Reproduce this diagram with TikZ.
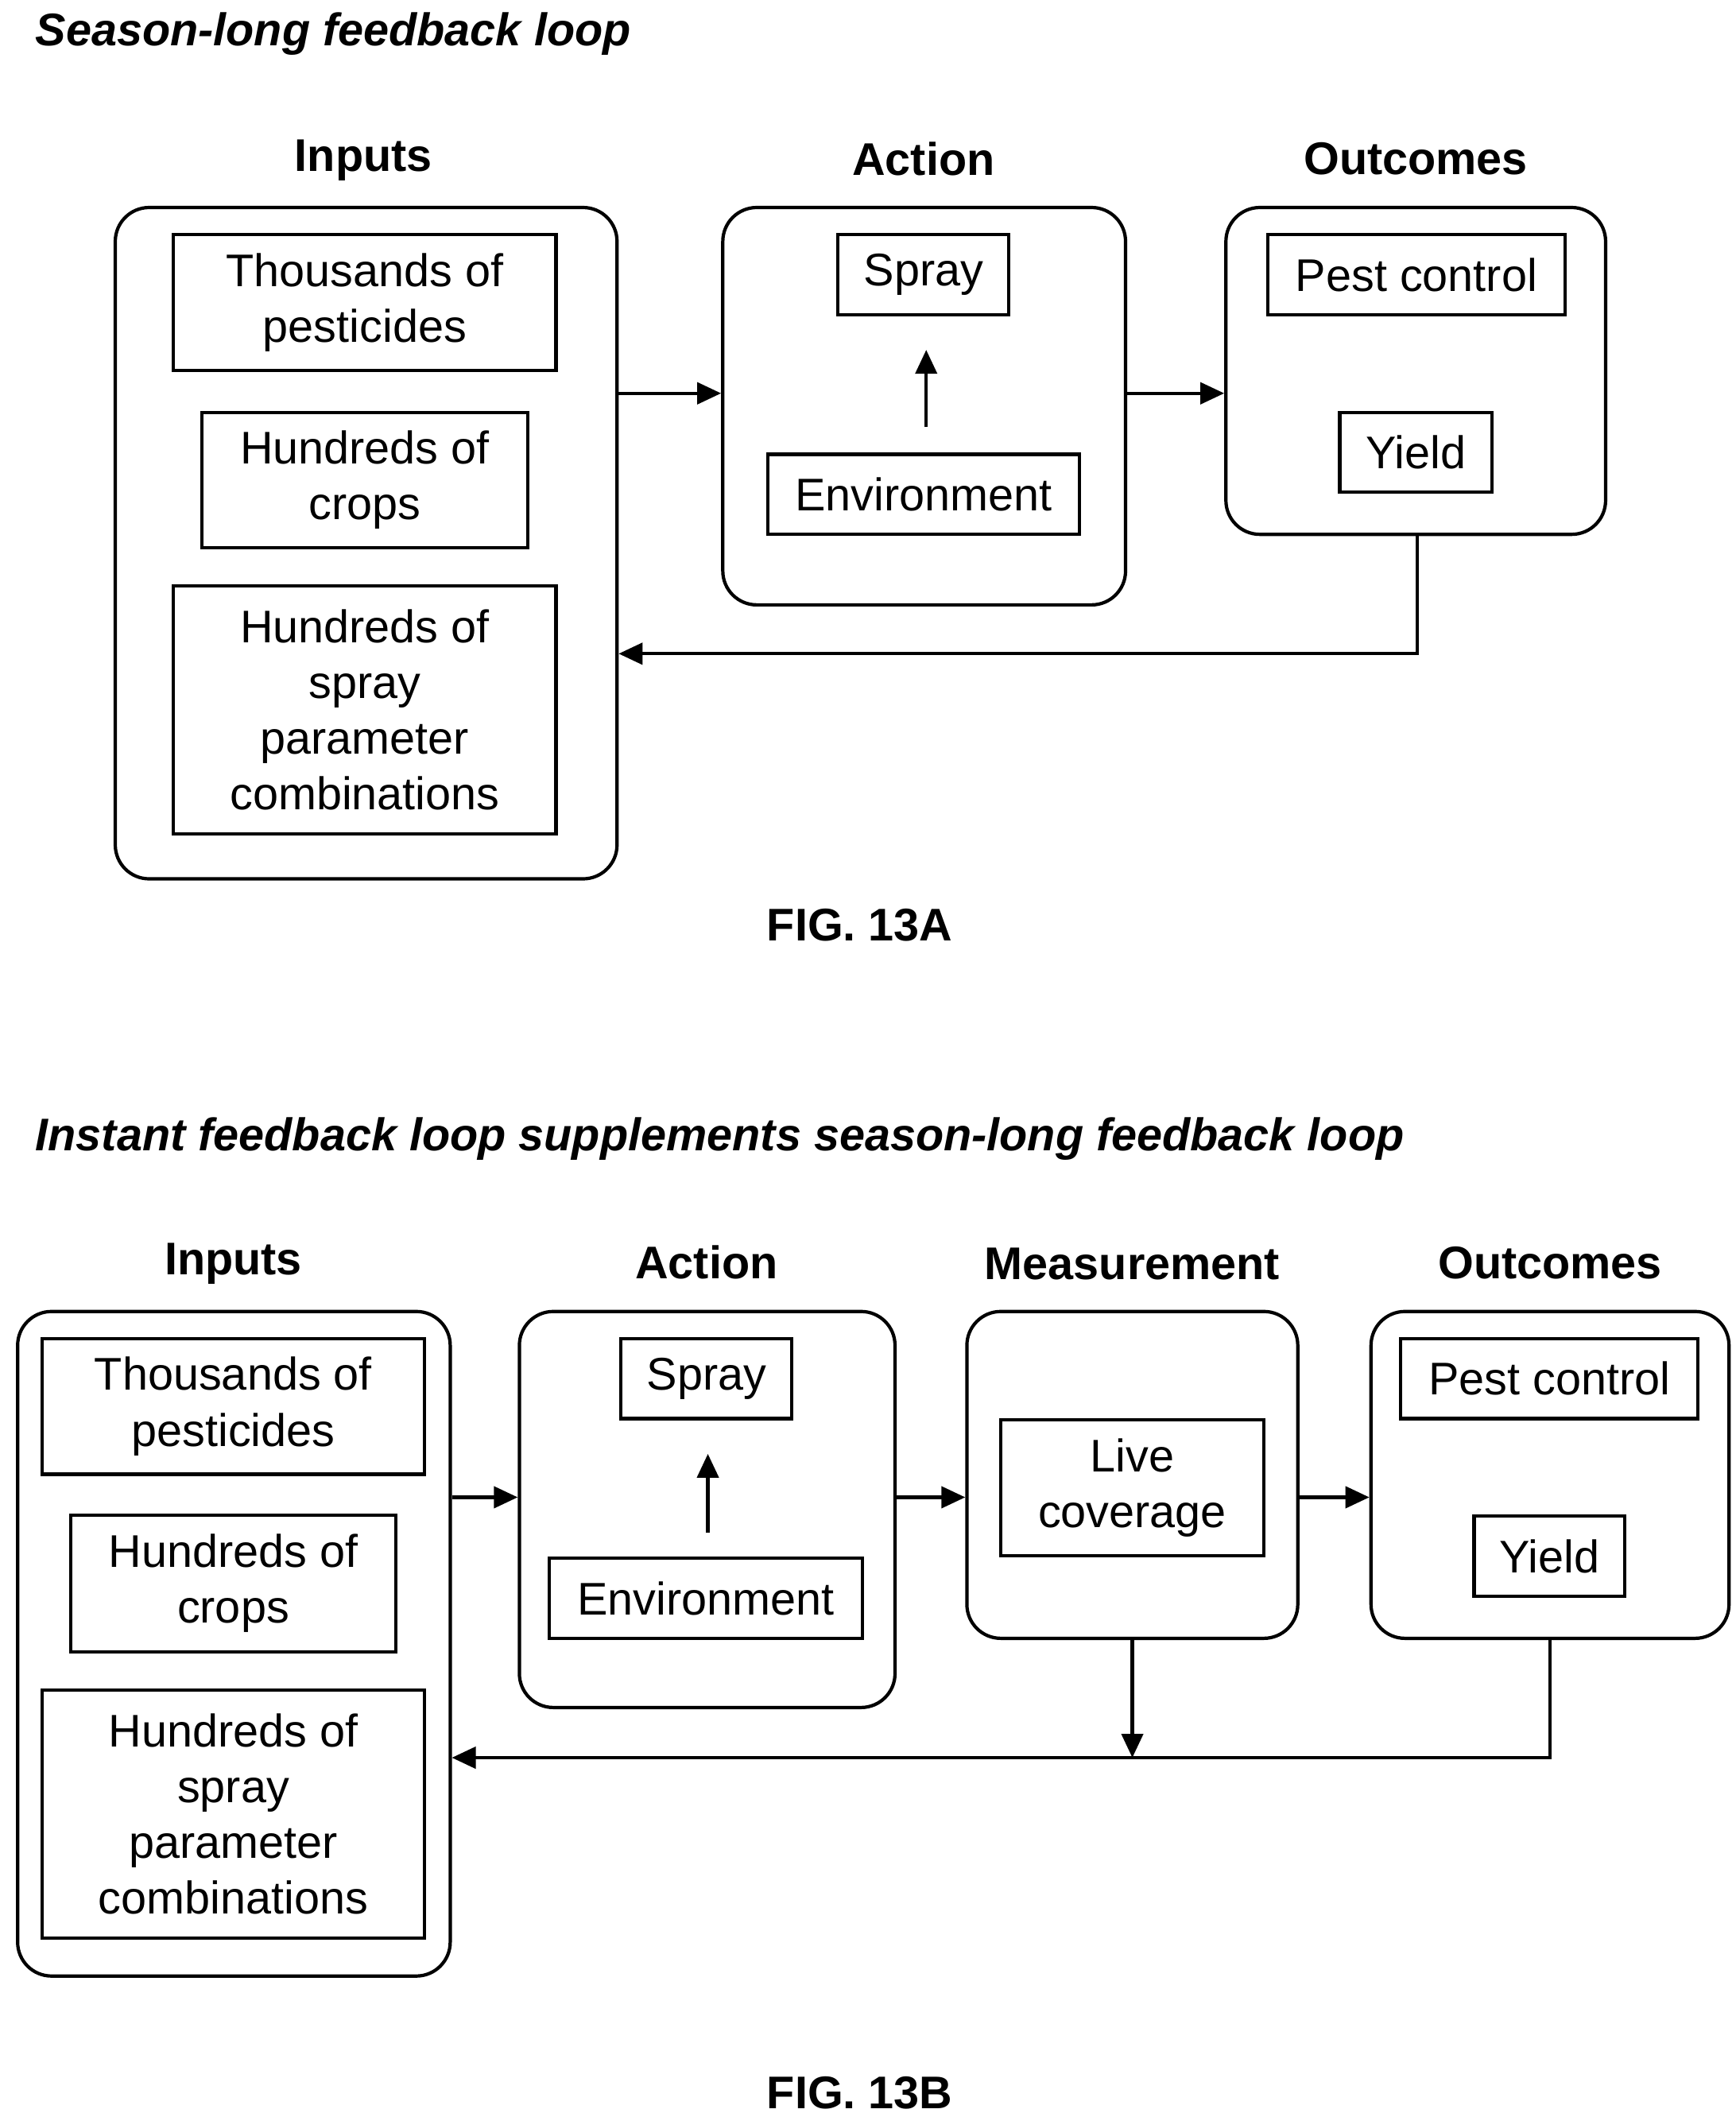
\documentclass[tikz,border=0pt]{standalone}
\usepackage{fontspec}
\setmainfont{Liberation Sans}
\usetikzlibrary{arrows.meta}
\begin{document}
\begin{tikzpicture}[x=0.01cm,y=-0.01cm,line width=0.7pt,
  txt/.style={font=\fontsize{9.6}{11.7}\selectfont,align=center},
  hd/.style={font=\fontsize{9.6}{11.7}\selectfont\bfseries},
  ttl/.style={anchor=west,inner sep=0pt,font=\fontsize{9.6}{12}\selectfont\bfseries\itshape},
  outer/.style={draw,rounded corners=0.25cm,inner sep=0pt},
  inner/.style={draw,inner sep=0pt,txt},
  arr/.style={-{Triangle[length=5pt,width=4.5pt]}}]
\newcommand\bx[7]{\node[#2,minimum width={(#5-#3)*0.01cm},minimum height={(#6-#4)*0.01cm}] (#1) at ({(#3+#5)/2},{(#4+#6)/2}) {#7};}
\useasboundingbox (0,0) rectangle (1280,1558);
% ---- Fig A
\node[ttl] (ta) at (25,25) {Season-long feedback loop};
\node[hd] (hA1) at (268,118) {Inputs};
\node[hd] (hA2) at (681,117) {Action};
\node[hd] (hA3) at (1044,117) {Outcomes};
\bx{inA}{outer}{85}{153}{455}{648}{}
\bx{a1}{inner}{128}{173}{410}{273}{Thousands of\\pesticides}
\bx{a2}{inner}{149}{304}{389}{404}{Hundreds of\\crops}
\bx{a3}{inner}{128}{432}{410}{615}{Hundreds of\\spray\\parameter\\combinations}
\bx{acA}{outer}{533}{153}{830}{446}{}
\bx{spA}{inner}{618}{173}{744}{232}{Spray}
\bx{enA}{inner}{566}{335}{796}{394}{Environment}
\bx{ouA}{outer}{904}{153}{1184}{394}{}
\bx{pcA}{inner}{935}{173}{1154}{232}{Pest control}
\bx{yA}{inner}{988}{304}{1100}{363}{Yield}
\coordinate (eA1) at (683,315); \coordinate (eA2) at (683,258);
\draw[arr] (eA1) -- (eA2);
\draw[arr] (inA.east|-0,290) -- (acA.west|-0,290);
\draw[arr] (acA.east|-0,290) -- (ouA.west|-0,290);
\coordinate (fA) at (1045,482);
\draw[arr] (ouA.south-|fA) -- (fA) -- (inA.east|-fA);
\node[hd] (figA) at (634,682) {FIG. 13A};
% ---- Fig B
\node[ttl] (tb) at (25,840) {Instant feedback loop supplements season-long feedback loop};
\node[hd] (hB1) at (172,932) {Inputs};
\node[hd] (hB2) at (521,931) {Action};
\node[hd] (hB3) at (835,932) {Measurement};
\node[hd] (hB4) at (1143,931) {Outcomes};
\bx{inB}{outer}{13}{967}{332}{1457}{}
\bx{b1}{inner}{31}{987}{313}{1087}{Thousands of\\pesticides}
\bx{b2}{inner}{52}{1117}{292}{1218}{Hundreds of\\crops}
\bx{b3}{inner}{31}{1246}{313}{1429}{Hundreds of\\spray\\parameter\\combinations}
\bx{acB}{outer}{383}{967}{660}{1259}{}
\bx{spB}{inner}{458}{987}{584}{1046}{Spray}
\bx{enB}{inner}{405}{1149}{636}{1208}{Environment}
\bx{meB}{outer}{713}{967}{957}{1208}{}
\bx{lcB}{inner}{738}{1047}{932}{1147}{Live\\coverage}
\bx{ouB}{outer}{1011}{967}{1275}{1208}{}
\bx{pcB}{inner}{1033}{987}{1252}{1046}{Pest control}
\bx{yB}{inner}{1087}{1118}{1198}{1177}{Yield}
\coordinate (eB1) at (522,1130); \coordinate (eB2) at (522,1072);
\draw[arr] (eB1) -- (eB2);
\draw[arr] (inB.east|-0,1104) -- (acB.west|-0,1104);
\draw[arr] (acB.east|-0,1104) -- (meB.west|-0,1104);
\draw[arr] (meB.east|-0,1104) -- (ouB.west|-0,1104);
\coordinate (fB) at (1143,1296); \coordinate (mB) at (835,1296);
\draw[arr] (ouB.south-|fB) -- (fB) -- (inB.east|-fB);
\draw[arr] (meB.south-|mB) -- (mB);
\node[hd] (figB) at (634,1543) {FIG. 13B};
\end{tikzpicture}
\end{document}
